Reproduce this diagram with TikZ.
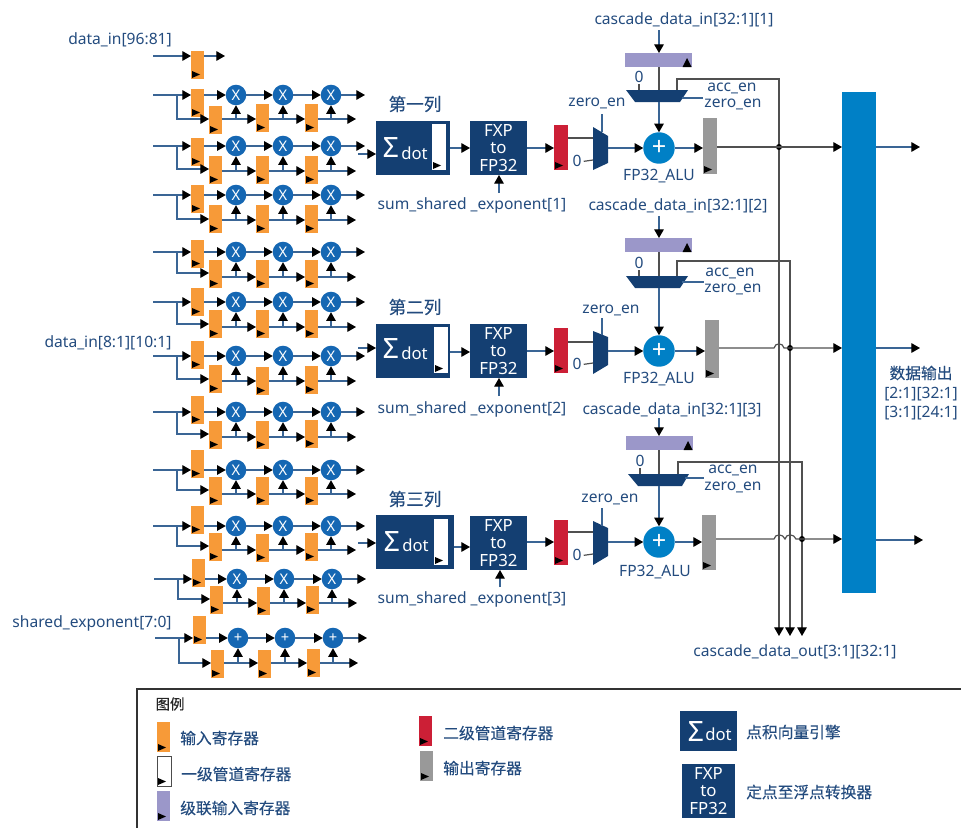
\documentclass[tikz,border=0pt]{standalone}
\usepackage{fontspec}
\setmainfont{Noto Sans}
\newfontfamily\cjk{Noto Sans CJK SC}
\newfontfamily\cjkb[FakeBold=0.2]{Noto Sans CJK SC}
\usetikzlibrary{arrows.meta,calc}
\definecolor{txt}{HTML}{234B7E}
\definecolor{wire}{HTML}{3A6595}
\definecolor{gwire}{HTML}{505050}
\definecolor{navy}{HTML}{143F72}
\definecolor{orng}{HTML}{F79A38}
\definecolor{mulb}{HTML}{1567B3}
\definecolor{alub}{HTML}{0080C6}
\definecolor{purp}{HTML}{9B97C9}
\definecolor{redr}{HTML}{CC1F36}
\definecolor{gryr}{HTML}{999999}
\tikzset{
  box/.style={draw=none,inner sep=0pt,outer sep=0pt,anchor=north west},
  rego/.style={box,fill=orng,minimum width=9.75pt,minimum height=21pt},
  regp/.style={box,fill=purp,minimum width=50.25pt,minimum height=10.5pt},
  regw/.style={box,fill=white,minimum width=10.5pt},
  regr/.style={box,fill=redr,minimum width=10.5pt,minimum height=33.75pt},
  regg/.style={box,fill=gryr,minimum width=10.5pt},
  blk/.style={box,fill=navy,text=white,align=center,font=\fontsize{12.6}{13.1}\selectfont},
  mulc/.style={circle,fill=mulb,text=white,inner sep=0pt,outer sep=0pt,minimum size=15.4pt,font=\fontsize{11}{11}\bfseries\selectfont},
  aluc/.style={circle,fill=alub,text=white,inner sep=0pt,outer sep=0pt,minimum size=23.6pt,font=\fontsize{19}{19}\bfseries\selectfont},
  bar/.style={box,fill=alub,minimum width=25.5pt,minimum height=375.75pt},
  lbl/.style={inner sep=0pt,text=txt,yshift=-1pt,font=\fontsize{11.7}{13}\selectfont},
  chn/.style={inner sep=0pt,text=txt,font=\cjkb\fontsize{11.8}{14}\selectfont},
  hd/.style={inner sep=0pt,text=txt,font=\cjkb\fontsize{13.2}{14}\selectfont},
  dotx/.style={text=white,inner sep=0pt,font=\fontsize{12.5}{13}\selectfont},
  sigx/.style={text=white,inner sep=0pt,font=\fontsize{21}{21}\selectfont},
  arr/.style={draw=wire,line width=0.9pt,-{Triangle[length=6.5pt,width=7.2pt,black]}},
  arrg/.style={draw=gwire,line width=0.9pt,-{Triangle[length=6.5pt,width=7.2pt,black]}},
  wr/.style={draw=wire,line width=0.9pt},
  wg/.style={draw=gwire,line width=0.9pt},
  jn/.style={circle,fill=black,inner sep=0pt,minimum size=4.5pt}
}
\newcommand{\clk}[1]{\fill[black] (#1.south west) ++(1,-8) -- ++(0,7) -- ++(8,-3.5) -- cycle;}
\begin{document}
\begin{tikzpicture}[x=0.75pt,y=-0.75pt]
\useasboundingbox (0,0) rectangle (961,828);
% ---- top single register
\coordinate (in0) at (153,56);
\coordinate (o0) at (225,56);
\node[rego] (u0) at (191,51) {};
\clk{u0}
\draw[arr] (in0) -- (u0.west |- in0);
\draw[arr] (u0.east |- in0) -- (o0);
% ---- multiplier rows
\foreach \r/\y/\ut/\yl/\yb/\ta/\tb/\tc/\dx/\sym in {
 1/95/89/119/119/106/104/104/0/X,
 2/146/138/171/169/156/156/156/0/X,
 3/195/185/220/219/205/205/205/0/X,
 4/252/240/277/273/260/260/260/0/X,
 5/302/288/327/324/310/310/310/0/X,
 6/356/341/381/379/365/367/366/0/X,
 7/412/396/437/434/421/421/420/0/X,
 8/470/450/494/490/477/477/477/0/X,
 9/526/506/550/546/533/534/533/0/X,
 10/579/559/603/599/586/587/586/1/X,
 11/638/616/663/663/650/650/649/2/+}{
  \coordinate (in\r) at (153+\dx,\y);
  \coordinate (bt\r) at (177+\dx,\y);
  \coordinate (bb\r) at (177+\dx,\yb);
  \coordinate (lo\r) at (177+\dx,\yl);
  \coordinate (ot\r) at (365+\dx,\y);
  \coordinate (ol\r) at (356+\dx,\yl);
  \node[rego] (u\r) at (191+\dx,\ut) {};
  \node[rego] (la\r) at (209+\dx,\ta) {};
  \node[rego] (lb\r) at (256+\dx,\tb) {};
  \node[rego] (lc\r) at (305+\dx,\tc) {};
  \node[mulc] (ca\r) at (236+\dx,\y) {\sym};
  \node[mulc] (cb\r) at (283+\dx,\y) {\sym};
  \node[mulc] (cc\r) at (331+\dx,\y) {\sym};
  \clk{u\r}\clk{la\r}\clk{lb\r}\clk{lc\r}
  \draw[arr] (in\r) -- (u\r.west |- in\r);
  \draw[arr] (bt\r) -- (bb\r) -- (la\r.west |- bb\r);
  \draw[arr] (u\r.east |- in\r) -- (ca\r.west);
  \draw[arr] (ca\r.east) -- (cb\r.west);
  \draw[arr] (cb\r.east) -- (cc\r.west);
  \draw[arr] (cc\r.east) -- (ot\r);
  \draw[arr] (la\r.east |- lo\r) -- (lb\r.west |- lo\r);
  \draw[arr] (lb\r.east |- lo\r) -- (lc\r.west |- lo\r);
  \draw[arr] (lc\r.east |- lo\r) -- (ol\r);
  \draw[arr] (ca\r.south |- lo\r) -- (ca\r.south);
  \draw[arr] (cb\r.south |- lo\r) -- (cb\r.south);
  \draw[arr] (cc\r.south |- lo\r) -- (cc\r.south);
}
% ---- output bar
\node[bar] (obar) at (842,92) {};
% ---- column 1
\node[hd] (h1) at (415,104) {第一列};
\node[blk,minimum width=55.5pt,minimum height=40.5pt] (d1) at (376,121) {};
\node[dotx] (dt1) at (414.5,153) {dot};
\node[sigx] (sg1) at (391,148) {Σ};
\node[regw,minimum height=34.5pt] (w1) at (432,124) {};\clk{w1}
\node[blk,minimum width=42.75pt,minimum height=40.5pt,text width=42.75pt] (f1) at (470,121) {FXP\\to\\FP32};
\node[regr] (r1) at (554,125) {};\clk{r1}
\node[regg,minimum height=42pt] (g1) at (703,118) {};\clk{g1}
\node[regp] (p1) at (625,53) {};
\fill[black] (p1.south east) ++(-9.5,0) -- ++(9,0) -- ++(-4.5,-9) -- cycle;
\node[aluc] (a1) at (659,148) {+};
\fill[navy] (593,127) -- (608,136) -- (608,163) -- (593,170) -- cycle;
\fill[navy] (626,90) -- (688,90) -- (680,102) -- (635,102) -- cycle;
\coordinate (mi1) at (593,138); \coordinate (mz1) at (593,160); \coordinate (mo1) at (608,148); \coordinate (ms1) at (602,132);
\coordinate (at1) at (659,90); \coordinate (ab1) at (659,102); \coordinate (az1) at (639,90); \coordinate (ac1) at (677,90); \coordinate (ae1) at (682,98);
\coordinate (ic1) at (358,154);
\node[lbl] (z1) at (577,160) {0};
\node[lbl] (ze1) at (597,102) {zero\_en};
\coordinate (zet1) at (602,114);
\node[lbl] (alu1) at (659,175) {FP32\_ALU};
\node[lbl] (sx1) at (472,204) {sum\_shared \_exponent[1]};
\coordinate (sxt1) at (499,193);
\node[lbl] (ci1) at (684,18) {cascade\_data\_in[32:1][1]};
\coordinate (cib1) at (659,30);
\node[lbl] (zz1) at (639,76) {0};
\node[lbl] (ac1t) at (732,87) {acc\_en};
\node[lbl] (ze1b) at (733,103) {zero\_en};
\coordinate (zl1) at (703,98);
\draw[arr] (ic1) -- (d1.west |- ic1);
\draw[arr] (d1.east |- 0,148) -- (f1.west |- 0,148);
\draw[arr] (f1.east |- 0,148) -- (r1.west |- 0,148);
\draw[wg] (r1.east |- mi1) -- (mi1);
\draw[wg] (z1.east) ++(2,0) -- (mz1);
\draw[arr] (mo1) -- (a1.west);
\draw[wr] (zet1) -- (ms1);
\draw[arr] (a1.east) -- (g1.west |- a1);
\draw[arr] (sxt1) -- (f1.south -| sxt1);
\draw[arr] (cib1) -- (p1.north -| cib1);
\draw[wg] (p1.south -| at1) -- (at1);
\draw[arr] (ab1) -- (a1.north);
\draw[wg] (az1) -- ++(0,-6);
\draw[wr] (ae1) -- (zl1);
% ---- column 2
\node[hd] (h2) at (415,307) {第二列};
\node[blk,minimum width=55.5pt,minimum height=40.5pt] (d2) at (376,324) {};
\node[dotx] (dt2) at (414.5,353) {dot};
\node[sigx] (sg2) at (391,349) {Σ};
\node[regw,minimum height=34.5pt] (w2) at (434,327) {};\clk{w2}
\node[blk,minimum width=42.75pt,minimum height=40.5pt,text width=42.75pt] (f2) at (470,324) {FXP\\to\\FP32};
\node[regr] (r2) at (554,328) {};\clk{r2}
\node[regg,minimum height=43.5pt] (g2) at (705,320) {};\clk{g2}
\node[regp] (p2) at (625,238) {};
\fill[black] (p2.south east) ++(-9.5,0) -- ++(9,0) -- ++(-4.5,-9) -- cycle;
\node[aluc] (a2) at (659,351) {+};
\fill[navy] (593,331) -- (608,337) -- (608,365) -- (593,374) -- cycle;
\fill[navy] (626,276) -- (688,276) -- (680,288) -- (635,288) -- cycle;
\coordinate (mi2) at (593,342); \coordinate (mz2) at (593,363); \coordinate (mo2) at (608,351); \coordinate (ms2) at (602,335);
\coordinate (at2) at (659,276); \coordinate (ab2) at (659,288); \coordinate (az2) at (639,276); \coordinate (ac2) at (677,276); \coordinate (ae2) at (682,282);
\coordinate (ic2) at (358,348);
\node[lbl] (z2) at (577,363) {0};
\node[lbl] (ze2) at (611,309) {zero\_en};
\coordinate (zet2) at (602,318);
\node[lbl] (alu2) at (659,378) {FP32\_ALU};
\node[lbl] (sx2) at (472,408) {sum\_shared \_exponent[2]};
\coordinate (sxt2) at (499,396);
\node[lbl] (ci2) at (678,204) {cascade\_data\_in[32:1][2]};
\coordinate (cib2) at (659,216);
\node[lbl] (zz2) at (639,262) {0};
\node[lbl] (ac2t) at (730,272) {acc\_en};
\node[lbl] (ze2b) at (733,288) {zero\_en};
\coordinate (zl2) at (704,282);
\draw[arr] (ic2) -- (d2.west |- ic2);
\draw[arr] (d2.east |- 0,352) -- (f2.west |- 0,352);
\draw[arr] (f2.east |- 0,351) -- (r2.west |- 0,351);
\draw[wg] (r2.east |- mi2) -- (mi2);
\draw[wg] (z2.east) ++(2,0) -- (mz2);
\draw[arr] (mo2) -- (a2.west);
\draw[wr] (zet2) -- (ms2);
\draw[arr] (a2.east) -- (g2.west |- a2);
\draw[arr] (sxt2) -- (f2.south -| sxt2);
\draw[arr] (cib2) -- (p2.north -| cib2);
\draw[wg] (p2.south -| at2) -- (at2);
\draw[arr] (ab2) -- (a2.north);
\draw[wg] (az2) -- ++(0,-6);
\draw[wr] (ae2) -- (zl2);
% ---- column 3
\node[hd] (h3) at (415,499) {第三列};
\node[blk,minimum width=58.5pt,minimum height=40.5pt] (d3) at (376,515) {};
\node[dotx] (dt3) at (415.5,545) {dot};
\node[sigx] (sg3) at (392,541) {Σ};
\node[regw,minimum height=34.5pt] (w3) at (434,519) {};\clk{w3}
\node[blk,minimum width=42.75pt,minimum height=40.5pt,text width=42.75pt] (f3) at (470,516) {FXP\\to\\FP32};
\node[regr] (r3) at (554,520) {};\clk{r3}
\node[regg,minimum height=41.25pt] (g3) at (702,515) {};\clk{g3}
\node[regp] (p3) at (626,436) {};
\fill[black] (p3.south east) ++(-9.5,0) -- ++(9,0) -- ++(-4.5,-9) -- cycle;
\node[aluc] (a3) at (659,542) {+};
\fill[navy] (593,521) -- (608,528) -- (608,556) -- (593,565) -- cycle;
\fill[navy] (628,474) -- (689,474) -- (682,486) -- (638,486) -- cycle;
\coordinate (mi3) at (593,532); \coordinate (mz3) at (593,554); \coordinate (mo3) at (608,542); \coordinate (ms3) at (602,526);
\coordinate (at3) at (659,474); \coordinate (ab3) at (659,486); \coordinate (az3) at (640,474); \coordinate (ac3) at (678,474); \coordinate (ae3) at (685,478);
\coordinate (ic3) at (358,543);
\node[lbl] (z3) at (577,554) {0};
\node[lbl] (ze3) at (610,498) {zero\_en};
\coordinate (zet3) at (602,508);
\node[lbl] (alu3) at (655,571) {FP32\_ALU};
\node[lbl] (sx3) at (472,598) {sum\_shared \_exponent[3]};
\coordinate (sxt3) at (500,587);
\node[lbl] (ci3) at (672,408) {cascade\_data\_in[32:1][3]};
\coordinate (cib3) at (659,418);
\node[lbl] (zz3) at (640,460) {0};
\node[lbl] (ac3t) at (733,469) {acc\_en};
\node[lbl] (ze3b) at (733,486) {zero\_en};
\coordinate (zl3) at (704,478);
\draw[arr] (ic3) -- (d3.west |- ic3);
\draw[arr] (d3.east |- 0,547) -- (f3.west |- 0,547);
\draw[arr] (f3.east |- 0,542) -- (r3.west |- 0,542);
\draw[wg] (r3.east |- mi3) -- (mi3);
\draw[wg] (z3.east) ++(2,0) -- (mz3);
\draw[arr] (mo3) -- (a3.west);
\draw[wr] (zet3) -- (ms3);
\draw[arr] (a3.east) -- (g3.west |- a3);
\draw[arr] (sxt3) -- (f3.south -| sxt3);
\draw[arr] (cib3) -- (p3.north -| cib3);
\draw[wg] (p3.south -| at3) -- (at3);
\draw[arr] (ab3) -- (a3.north);
\draw[wg] (az3) -- ++(0,-6);
\draw[wr] (ae3) -- (zl3);
% ---- cascade out buses
\coordinate (v1) at (779,636); \coordinate (v2) at (790,636); \coordinate (v3) at (802,636);
\draw[arrg] (ac1) -- (677,79) -- (779,79) -- (v1);
\draw[arrg] (ac2) -- (677,261) -- (790,261) -- (v2);
\draw[arrg] (ac3) -- (678,462) -- (802,462) -- (v3);
\node[lbl] (cdo) at (795,650) {cascade\_data\_out[3:1][32:1]};
% ---- outputs from gray registers, with hops over the buses
\node[jn] (j1) at (779,147) {};
\node[jn] (j2) at (790,348) {};
\node[jn] (j3) at (802,539) {};
\draw[arrg] (g1.east |- j1) -- (obar.west |- j1);
\draw[arrg] (g2.east |- j2) -- (774,348) .. controls (775,342.5) and (783,342.5) .. (784,348) -- (obar.west |- j2);
\draw[arrg] (g3.east |- j3) -- (774,539) .. controls (775,533.5) and (783,533.5) .. (785,539) .. controls (786,533.5) and (794,533.5) .. (796,539) -- (obar.west |- j3);
\coordinate (e1) at (920,147); \coordinate (e2) at (920,348); \coordinate (e3) at (923,540);
\draw[arr] (obar.east |- e1) -- (e1);
\draw[arr] (obar.east |- e2) -- (e2);
\draw[arr] (obar.east |- e3) -- (e3);
\node[chn] (dout) at (921,373) {数据输出};
\node[lbl] (dd1) at (921,393) {[2:1][32:1]};
\node[lbl] (dd2) at (921,412) {[3:1][24:1]};
% ---- left labels
\node[lbl] (li0) at (120,38) {data\_in[96:81]};
\node[lbl] (li1) at (108,341) {data\_in[8:1][10:1]};
\node[lbl] (li2) at (92,622) {shared\_exponent[7:0]};
% ---- legend
\coordinate (lg0) at (137,828); \coordinate (lg1) at (137,689); \coordinate (lg2) at (961,689);
\draw[draw=black!80,line width=1.4pt] (lg0) -- (lg1) -- (lg2);
\node[inner sep=0pt,font=\cjkb\fontsize{10.8}{12}\selectfont,text=black!85] (lgt) at (170,704) {图例};
\node[rego,minimum width=9.75pt,minimum height=22.5pt] (k1) at (157,722) {};\clk{k1}
\node[box,draw=black!70,fill=white,line width=0.6pt,minimum width=10.5pt,minimum height=22.5pt] (k2) at (157,756) {};\clk{k2}
\node[box,fill=purp,minimum width=9.75pt,minimum height=22.5pt] (k3) at (157,791) {};\clk{k3}
\node[box,fill=redr,minimum width=9.75pt,minimum height=22.5pt] (k4) at (419,716) {};\clk{k4}
\node[box,fill=gryr,minimum width=9.75pt,minimum height=22.5pt] (k5) at (420,751) {};\clk{k5}
\node[blk,minimum width=42.75pt,minimum height=30pt] (k6) at (680,711) {};
\node[dotx] (k6d) at (718.5,734) {dot};
\node[sigx] (k6s) at (696,731) {Σ};
\node[blk,minimum width=39.75pt,minimum height=40.5pt,text width=39.75pt] (k7) at (682,764) {FXP\\to\\FP32};
\node[chn,anchor=west] (t1) at (180,738) {输入寄存器};
\node[chn,anchor=west] (t2) at (181,774) {一级管道寄存器};
\node[chn,anchor=west] (t3) at (180,808) {级联输入寄存器};
\node[chn,anchor=west] (t4) at (443,733) {二级管道寄存器};
\node[chn,anchor=west] (t5) at (443,768) {输出寄存器};
\node[chn,anchor=west] (t6) at (746,732) {点积向量引擎};
\node[chn,anchor=west] (t7) at (746,792) {定点至浮点转换器};
\end{tikzpicture}
\end{document}
